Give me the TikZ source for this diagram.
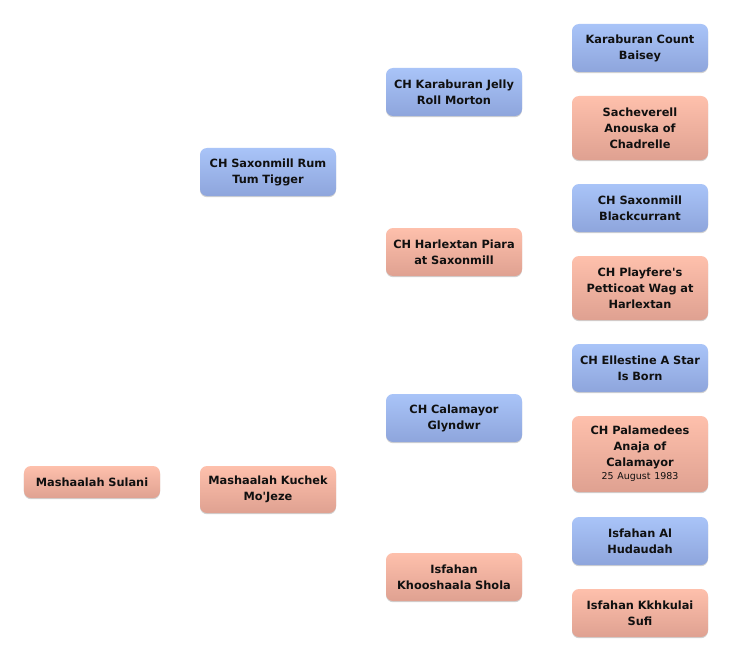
\documentclass[tikz,border=0pt]{standalone}
\usepackage{fontspec}
\setmainfont{DejaVu Sans}[Ligatures=TeXOff]
\usetikzlibrary{shadows}
\definecolor{bluetop}{HTML}{A9C4F8}
\definecolor{bluebot}{HTML}{8EA5DC}
\definecolor{pinktop}{HTML}{FEC0AC}
\definecolor{pinkbot}{HTML}{DFA191}
\definecolor{ink}{HTML}{101010}
\newcommand{\mydatefont}{\fontsize{9.5}{12}\selectfont\mdseries}
\tikzset{
  person/.style={rounded corners=7bp, minimum width=136bp, inner sep=0pt,
    text width=132bp, align=center, text=ink,
    font=\fontsize{11.4}{16}\selectfont\bfseries,
    drop shadow={shadow xshift=0bp, shadow yshift=-1.2bp, opacity=0.18, fill=black}},
  sire/.style={person, top color=bluetop, bottom color=bluebot},
  dam/.style={person, top color=pinktop, bottom color=pinkbot}
}
\begin{document}
\begin{tikzpicture}[x=1bp,y=-1bp]
\useasboundingbox[fill=white] (0,0) rectangle (732,661);
% generation 1
\node[dam, minimum height=32bp] (d1) at (92,482) {Mashaalah Sulani};
% generation 2
\node[sire, minimum height=48bp] (c1) at (268,172) {CH Saxonmill Rum\\Tum Tigger};
\node[dam, minimum height=47bp] (c2) at (268,489.5) {Mashaalah Kuchek\\Mo'Jeze};
% generation 3
\node[sire, minimum height=48bp] (b1) at (454,92) {CH Karaburan Jelly\\Roll Morton};
\node[dam, minimum height=48bp] (b2) at (454,252) {CH Harlextan Piara\\at Saxonmill};
\node[sire, minimum height=48bp] (b3) at (454,418) {CH Calamayor\\Glyndwr};
\node[dam, minimum height=48bp] (b4) at (454,577) {Isfahan\\Khooshaala Shola};
% generation 4
\node[sire, minimum height=48bp] (a1) at (640,48) {Karaburan Count\\Baisey};
\node[dam, minimum height=64bp] (a2) at (640,128) {Sacheverell\\Anouska of\\Chadrelle};
\node[sire, minimum height=48bp] (a3) at (640,208) {CH Saxonmill\\Blackcurrant};
\node[dam, minimum height=64bp] (a4) at (640,288) {CH Playfere's\\Petticoat Wag at\\Harlextan};
\node[sire, minimum height=48bp] (a5) at (640,368) {CH Ellestine A Star\\Is Born};
\node[dam, minimum height=76bp] (a6) at (640,454) {CH Palamedees\\Anaja of\\Calamayor\\[-3bp]{\mydatefont 25 August 1983}};
\node[sire, minimum height=48bp] (a7) at (640,541) {Isfahan Al\\Hudaudah};
\node[dam, minimum height=48bp] (a8) at (640,613) {Isfahan Kkhkulai\\Sufi};
\end{tikzpicture}
\end{document}
